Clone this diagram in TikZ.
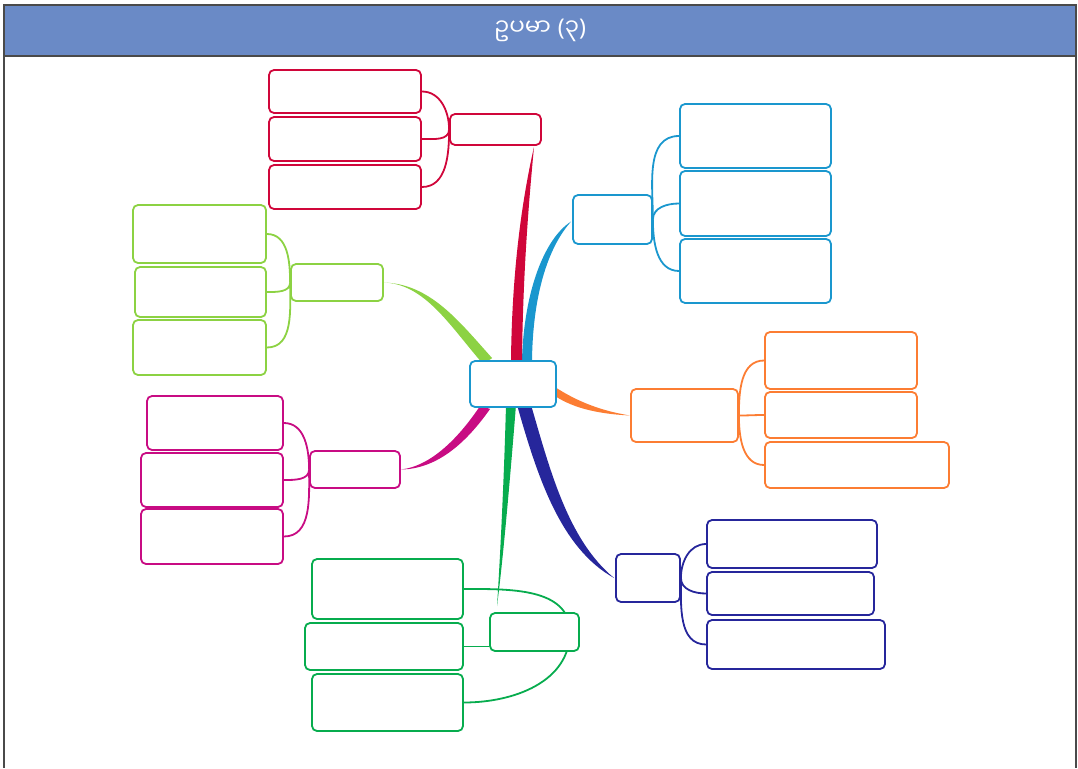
\documentclass[tikz,border=0pt]{standalone}
\usepackage{fontspec}
\newfontfamily\mmfont[Script=Myanmar]{Noto Sans Myanmar UI}
\newfontfamily\parenfont{Noto Sans}
\usetikzlibrary{positioning,backgrounds}

\definecolor{headblue}{HTML}{6A8AC6}
\definecolor{framegray}{HTML}{4A4A4A}
\definecolor{mmred}{HTML}{D0063A}
\definecolor{mmblue}{HTML}{1A97CE}
\definecolor{mmlime}{HTML}{8CD243}
\definecolor{mmmag}{HTML}{C80C83}
\definecolor{mmgreen}{HTML}{07AC4E}
\definecolor{mmnavy}{HTML}{26269B}
\definecolor{mmorange}{HTML}{FC7D33}

\begin{document}
\begin{tikzpicture}[x=1pt,y=-1pt,
      header/.style={
         draw=framegray,
         fill=headblue,
         line width=1.2pt,
         inner sep=0pt,
         minimum width=1072pt,
         minimum height=51pt,
         text=white,
         font=\fontsize{23}{26}\selectfont},
      box/.style={
         rectangle,
         rounded corners=5pt,
         fill=white,
         line width=1.8pt,
         inner sep=0pt},
      twig/.style={
         line width=1.8pt},
]
      \useasboundingbox (0,0) rectangle (1078,768);

      %frame and title
      \draw[framegray,line width=1.6pt] (4,30) -- (4,768);
      \draw[framegray,line width=1.6pt] (1076,30) -- (1076,768);
      \node[header] (title) at (540,30.5) {{\mmfont ဥပမာ} {\parenfont(}{\mmfont ၃}{\parenfont)}};

      %centre
      \node[box,draw=mmblue,minimum width=86pt,minimum height=46pt] (c) at (513,384) {};

      %main branches
      \node[box,draw=mmred,minimum width=91pt,minimum height=31pt] (r) at (495.5,129.5) {};
      \node[box,draw=mmblue,minimum width=79pt,minimum height=49pt] (b) at (612.5,219.5) {};
      \node[box,draw=mmlime,minimum width=92pt,minimum height=37pt] (l) at (337,282.5) {};
      \node[box,draw=mmmag,minimum width=90pt,minimum height=37pt] (m) at (355,469.5) {};
      \node[box,draw=mmgreen,minimum width=89pt,minimum height=38pt] (g) at (534.5,632) {};
      \node[box,draw=mmnavy,minimum width=64pt,minimum height=48pt] (n) at (648,578) {};
      \node[box,draw=mmorange,minimum width=107pt,minimum height=53pt] (o) at (684.5,415.5) {};

      %leaves
      \foreach \n/\x/\y/\w/\h/\col in {%
        r1/345/91.5/152/43/mmred, r2/345/139/152/44/mmred, r3/345/187/152/44/mmred,
        b1/755.5/136/151/64/mmblue, b2/755.5/203.5/151/65/mmblue, b3/755.5/271/151/64/mmblue,
        l1/199.5/234/133/58/mmlime, l2/200.5/292/131/50/mmlime, l3/199.5/347.5/133/55/mmlime,
        m1/215/423/136/54/mmmag, m2/212/480/142/54/mmmag, m3/212/536.5/142/55/mmmag,
        g1/387.5/589/151/60/mmgreen, g2/384/646.5/158/47/mmgreen, g3/387.5/702.5/151/57/mmgreen,
        n1/792/544/170/48/mmnavy, n2/790.5/593.5/167/43/mmnavy, n3/796/644.5/178/49/mmnavy,
        o1/841/360.5/152/57/mmorange, o2/841/415/152/46/mmorange, o3/857/465/184/46/mmorange}
      \node[box,draw=\col,minimum width=\w pt,minimum height=\h pt] (\n) at (\x,\y) {};

      \coordinate (gjoin) at ([xshift=-10pt]g.east);

      \begin{pgfonlayer}{background}
      %tapered branches from the centre
      \fill[mmblue] ([xshift=9pt]c.north) .. controls (524,290) and (545,238) .. ([xshift=-1pt,yshift=-2pt]b.west)
         .. controls (550,245) and (533,290) .. ([xshift=19pt]c.north) -- cycle;
      \fill[mmred] ([xshift=-2pt]c.north) .. controls (512,270) and (522,200) .. ([xshift=38.5pt,yshift=-1pt]r.south)
         .. controls (529,200) and (523,270) .. ([xshift=9pt]c.north) -- cycle;
      \fill[mmlime] (l.east) .. controls (425,284) and (450,326) .. ([xshift=14pt,yshift=-4pt]c.north west)
         -- ([xshift=23pt,yshift=2pt]c.north west) .. controls (458,320) and (430,284) .. (l.east) -- cycle;
      \fill[mmmag] (m.east) .. controls (432,466) and (460,436) .. ([xshift=11pt,yshift=2pt]c.south west)
         -- ([xshift=21pt,yshift=-1pt]c.south west) .. controls (464,446) and (435,469) .. (m.east) -- cycle;
      \fill[mmgreen] ([xshift=-7pt,yshift=3pt]c.south) .. controls (504,480) and (500,560) .. ([xshift=-37.5pt,yshift=6pt]g.north)
         .. controls (503,560) and (510,480) .. ([xshift=3pt,yshift=3pt]c.south) -- cycle;
      \fill[mmnavy] ([xshift=4pt,yshift=3pt]c.south) .. controls (537,475) and (560,548) .. ([xshift=-1pt]n.west)
         .. controls (568,540) and (550,470) .. ([xshift=18pt,yshift=3pt]c.south) -- cycle;
      \fill[mmorange] ([xshift=-2pt,yshift=-3pt]c.east) .. controls (578,402) and (602,411) .. (o.west)
         .. controls (600,414) and (575,409) .. ([xshift=-2pt,yshift=-12pt]c.east) -- cycle;

      %twigs to the leaves
      \foreach \i/\j/\o/\e/\col in {% from/to/out/in/colour
        r1.east/r.west/0/90/mmred, r2.east/r.west/0/-90/mmred, r3.east/r.west/0/-90/mmred,
        b.east/b1.west/90/180/mmblue, b.east/b2.west/90/180/mmblue, b.east/b3.west/-90/180/mmblue,
        l1.east/l.west/0/90/mmlime, l2.east/l.west/0/-90/mmlime, l3.east/l.west/0/-90/mmlime,
        m1.east/m.west/0/90/mmmag, m2.east/m.west/0/-90/mmmag, m3.east/m.west/0/-90/mmmag,
        g1.east/gjoin/0/90/mmgreen, g3.east/gjoin/0/-90/mmgreen,
        n.east/n1.west/90/180/mmnavy, n.east/n2.west/-90/180/mmnavy, n.east/n3.west/-90/180/mmnavy,
        o.east/o1.west/90/180/mmorange, o.east/o2.west/0/180/mmorange, o.east/o3.west/-90/180/mmorange}
      \draw[twig,\col] (\i) to[out=\o,in=\e] (\j);
      \draw[twig,mmgreen] (g2.east) -- (g2.east -| g.west);
      \end{pgfonlayer}
\end{tikzpicture}
\end{document}
